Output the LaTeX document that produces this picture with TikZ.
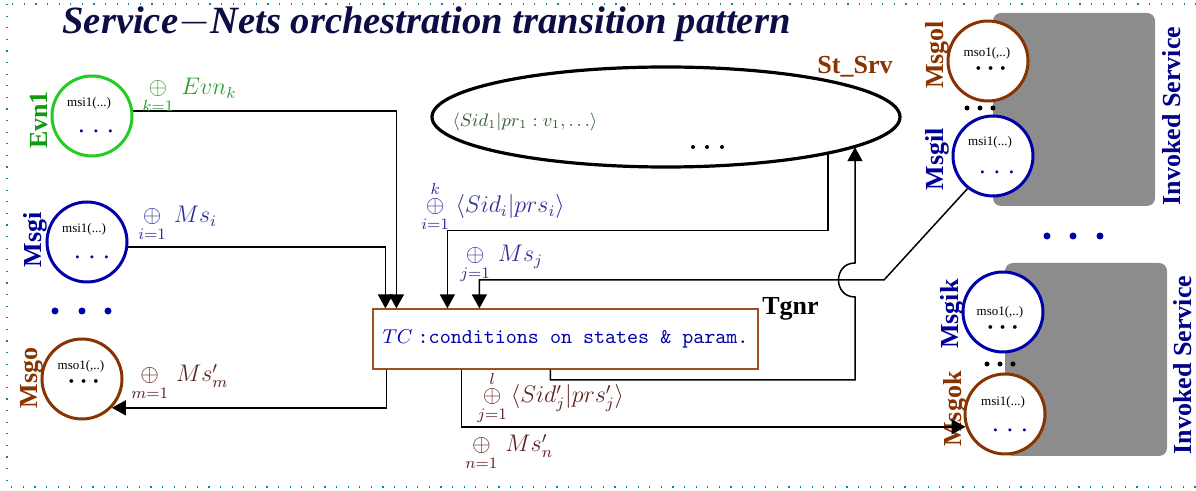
\documentclass[tikz,border=0pt]{standalone}
\usepackage{amsmath, amssymb}
\usepackage{fontspec}
\setmainfont{Liberation Serif}
\usetikzlibrary{shapes,arrows.meta,positioning,calc}

\definecolor{framecol}{RGB}{0,140,140}
\definecolor{titlecol}{RGB}{13,13,69}
\definecolor{evngreen}{RGB}{34,204,34}
\definecolor{evnlbl}{RGB}{17,153,17}
\definecolor{evnmath}{RGB}{46,155,46}
\definecolor{inblue}{RGB}{0,0,170}
\definecolor{inlbl}{RGB}{0,0,150}
\definecolor{inmath}{RGB}{46,46,153}
\definecolor{outbrown}{RGB}{136,51,0}
\definecolor{outmath}{RGB}{94,31,31}
\definecolor{tcbrown}{RGB}{160,80,30}
\definecolor{srvgreen}{RGB}{50,95,50}
\definecolor{boxgrey}{RGB}{140,140,140}
\definecolor{svcblue}{RGB}{0,0,136}

\begin{document}
\begin{tikzpicture}[
    x=0.5pt, y=-0.5pt,
    frame/.style={draw=framecol, line width=1.4pt, dash pattern=on 0.6pt off 5.2pt},
    place/.style={circle, draw, fill=white, line width=1.5pt, minimum size=40pt, inner sep=0pt},
    plbl/.style={rotate=90, font=\fontsize{13}{15}\selectfont\bfseries, inner sep=0pt},
    intxt/.style={font=\fontsize{6.5}{7}\selectfont, inner sep=0pt},
    indots/.style={font=\fontsize{12.5}{13}\selectfont, inner sep=0pt, anchor=base},
    outdots/.style={font=\fontsize{12}{13}\selectfont, inner sep=0pt, anchor=base},
    sum/.style={font=\fontsize{11.5}{13}\selectfont, inner sep=0pt, anchor=base west},
    cond/.style={rectangle, draw=tcbrown, line width=0.6pt, minimum width=192.5pt, minimum height=30pt, inner sep=0pt},
    svc/.style={fill=boxgrey, rounded corners=4pt},
    line/.style={draw, line width=0.75pt, -{Triangle[length=7pt,width=7.5pt]}}
]
    \useasboundingbox (0,0) rectangle (1196,491);
    \draw[frame] (7,4) rectangle (1215,487);

    % title
    \node[anchor=base west, inner sep=0pt, text=titlecol, font=\fontsize{19.3}{21}\selectfont\bfseries\itshape] (title) at (62,34) {Service$-$Nets orchestration transition pattern};

    % invoked services
    \fill[svc] (993,13) rectangle (1155,206);
    \fill[svc] (1005,263) rectangle (1167,456);
    \node[plbl, text=svcblue] (svc1) at (1172,116) {Invoked Service};
    \node[plbl, text=svcblue] (svc2) at (1183,365) {Invoked Service};

    % places
    \node[place, draw=evngreen] (evn) at (92,116) {};
    \node[place, draw=inblue] (msgi) at (87,242) {};
    \node[place, draw=outbrown] (msgo) at (82,379) {};
    \node[place, draw=outbrown] (msgol) at (988,61) {};
    \node[place, draw=inblue] (msgil) at (993,156) {};
    \node[place, draw=inblue] (msgik) at (1003,312) {};
    \node[place, draw=outbrown] (msgok) at (1005,414) {};

    \node[plbl, text=evnlbl] at (39,120) {Evn1};
    \node[plbl, text=inlbl] at (35,240) {Msgi};
    \node[plbl, text=outbrown] at (32,378) {Msgo};
    \node[plbl, text=outbrown] at (937,55) {Msgol};
    \node[plbl, text=inlbl] at (937,159) {Msgil};
    \node[plbl, text=inlbl] at (952,314) {Msgik};
    \node[plbl, text=outbrown] at (955,409) {Msgok};

    % place contents
    \node[intxt] at (89,103) {msi1(...)};
    \node[indots, text=inblue] at (96,133) {. . .};
    \node[intxt] at (84,229) {msi1(...)};
    \node[indots, text=inblue] at (92,259) {. . .};
    \node[intxt] at (81,366) {mso1(,..)};
    \node[outdots] at (86,388) {$\boldsymbol{\cdots}$};
    \node[intxt] at (987,53) {mso1(,..)};
    \node[outdots] at (993,75) {$\boldsymbol{\cdots}$};
    \node[intxt] at (990,142) {msi1(...)};
    \node[indots, text=inblue] at (997,174) {. . .};
    \node[intxt] at (1000,312) {mso1(,..)};
    \node[outdots] at (1005,334) {$\boldsymbol{\cdots}$};
    \node[intxt] at (1003,402) {msi1(...)};
    \node[indots, text=inblue] at (1010,432) {. . .};

    % dots between places
    \foreach \x in {55,82,108} \fill[inblue] (\x,311) circle[radius=3.5];
    \foreach \x in {1047,1073,1100} \fill[inblue] (\x,236) circle[radius=3.5];
    \foreach \x in {967,980,993} \fill (\x,108) circle[radius=2.5];
    \foreach \x in {987,1000,1013} \fill (\x,364) circle[radius=2.5];

    % state of services
    \node[ellipse, draw, line width=1.6pt, minimum width=234pt, minimum height=50pt, inner sep=0pt] (srv) at (666,117) {};
    \node[font=\fontsize{8.6}{10}\selectfont, text=srvgreen, inner sep=0pt] at (525,122) {$\langle Sid_1|pr_1:v_1,\ldots\rangle$};
    \foreach \x in {693,707,722} \fill (\x,147) circle[radius=2];
    \node[font=\fontsize{13}{15}\selectfont\bfseries, text=outbrown, inner sep=0pt] at (855,67) {St\_Srv};

    % transition
    \node[cond] (tc) at (565.5,339) {\textcolor{inblue}{$TC$ \fontsize{10.5}{12}\selectfont\ttfamily:conditions on states \& param.}};
    \node[anchor=base west, inner sep=0pt, font=\fontsize{13}{15}\selectfont\bfseries] at (762,315) {Tgnr};

    \coordinate (bend) at (884,280);
    \coordinate (tg) at (855,380);

    % arcs
    \draw[line] (evn.7) -| ([xshift=12pt]tc.north west);
    \draw[line] (msgi.-7) -| ([xshift=6.5pt]tc.north west);
    \draw[line] ([xshift=7pt]tc.south west) |- (msgo.-44);
    \draw[line] (srv.-13.5) -- ++(0,76) -| ([xshift=37.5pt]tc.north west);
    \draw[line] (msgil.232) -- (bend) -| ([xshift=53.5pt]tc.north west);
    \draw[line] ([xshift=44.5pt]tc.south west) |- (msgok.198);
    \draw[line] ([xshift=89pt]tc.south west) |- (tg) -- ++(0,-83) .. controls +(-22,0) and +(-22,0) .. ++(0,-34) -- (tg |- srv.-9);

    % arc labels
    \node[sum, text=evnmath] at (142,95) {$\mathop{\oplus}\limits_{k=1}\, Evn_k$};
    \node[sum, text=inmath] at (138,223) {$\mathop{\oplus}\limits_{i=1}\, Ms_i$};
    \node[sum, text=outmath] at (131,382) {$\mathop{\oplus}\limits_{m=1}\, Ms'_m$};
    \node[sum, text=inmath] at (421,213) {$\mathop{\oplus}\limits_{i=1}^{k}\;\langle Sid_i|prs_i\rangle$};
    \node[sum, text=inmath] at (460,262) {$\mathop{\oplus}\limits_{j=1}\, Ms_j$};
    \node[sum, text=outmath] at (477,403) {$\mathop{\oplus}\limits_{j=1}^{l}\,\langle Sid'_j|prs'_j\rangle$};
    \node[sum, text=outmath] at (465,452) {$\mathop{\oplus}\limits_{n=1}\, Ms'_n$};
\end{tikzpicture}
\end{document}
